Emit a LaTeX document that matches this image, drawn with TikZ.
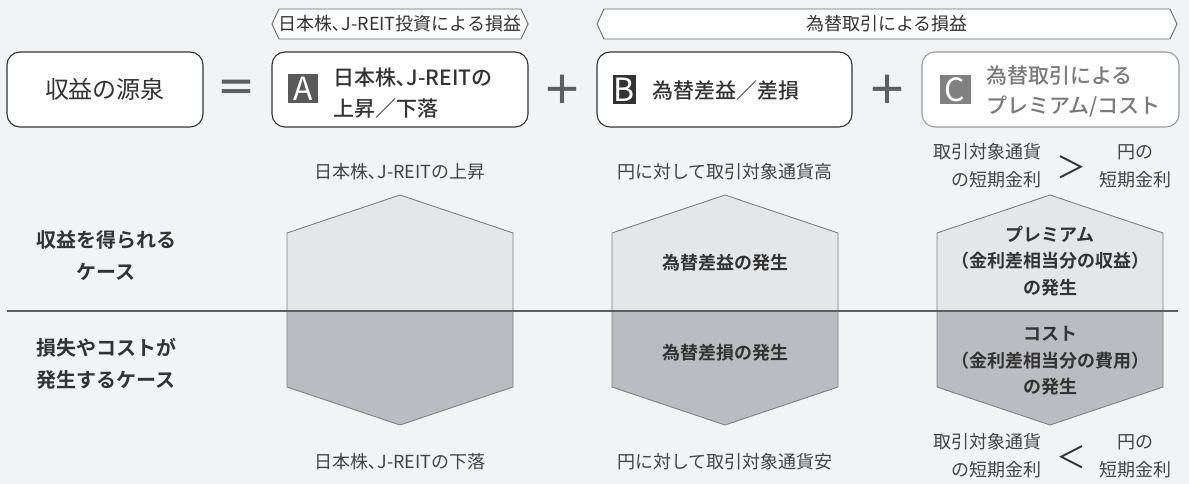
\documentclass[tikz,border=0pt]{standalone}
\usepackage{fontspec}
\setmainfont{Noto Sans CJK JP}[BoldFont={Noto Sans CJK JP Bold}]
\IfFontExistsTF{Noto Sans CJK JP Medium}
  {\newfontfamily\jpmid{Noto Sans CJK JP Medium}}
  {\newfontfamily\jpmid{Noto Sans CJK JP}[FakeBold=1.2]}
\usetikzlibrary{positioning}
\newcommand{\fsz}[2]{\fontsize{#1}{#2}\selectfont}

\definecolor{bgcol}{HTML}{F2F3F5}
\definecolor{inkdark}{HTML}{333333}
\definecolor{inkmid}{HTML}{444444}
\definecolor{inkgray}{HTML}{7A7A7A}
\definecolor{rimgray}{HTML}{9C9C9C}
\definecolor{hexhi}{HTML}{E5E6E8}
\definecolor{hexlo}{HTML}{BBBCBF}
\definecolor{hexrim}{HTML}{808080}
\definecolor{opgray}{HTML}{5E5E5E}

\tikzset{
  topbox/.style={draw=inkdark, line width=1.1pt, fill=white, rounded corners=13pt,
    minimum height=75pt, inner sep=0pt},
  badge/.style={fill=#1, text=white, minimum height=29pt, inner sep=0pt,
    font=\fsz{32}{32}},
  optext/.style={text=opgray, font=\bfseries\fsz{40}{40}, inner sep=0pt},
  brk/.style={draw=inkmid!80, line width=0.9pt, fill=white},
  brktext/.style={text=inkdark, font=\fsz{18}{18}, inner sep=0pt},
  note/.style={text=inkmid, font=\fsz{18}{28}, align=center, inner sep=0pt},
  hexlbl/.style={text=inkdark, font=\bfseries\fsz{18}{26.5}, align=center, inner sep=0pt},
  caselbl/.style={text=inkdark, font=\bfseries\fsz{20}{32}, align=center, inner sep=0pt},
  cmp/.style={text=inkdark, font=\fsz{30}{30}, inner sep=0pt}
}

\begin{document}
\begin{tikzpicture}[x=1pt,y=-1pt]
  \fill[bgcol] (0,0) rectangle (1189,484);
  \useasboundingbox (0,0) rectangle (1189,484);

  % brackets above the boxes
  \draw[brk] (272,24) -- (279,9) -- (521,9) -- (528,24) -- (521,39) -- (279,39) -- cycle;
  \node[brktext] (brkA) at (400,24) {日本株､J-REIT投資による損益};
  \draw[brk] (597,24) -- (604,9) -- (1170,9) -- (1177,24) -- (1170,39) -- (604,39) -- cycle;
  \node[brktext] (brkB) at (887,24) {為替取引による損益};

  % top row
  \node[topbox, minimum width=196pt, text=inkdark, font=\fsz{24}{24}] (src) at (105,89.5) {収益の源泉};
  \node[optext] (eq) at (236,91) {＝};
  \node[topbox, minimum width=256pt] (boxA) at (400,89.5) {};
  \node[badge=black!65, minimum width=30pt] (badgeA) at (303,88.5) {A};
  \node[text=inkdark, font=\jpmid\fsz{21}{31}, align=left, anchor=west, inner sep=0pt] (txtA)
    at (333,93) {日本株､J-REITの\\上昇／下落};
  \node[optext] (plusA) at (562,90) {＋};
  \node[topbox, minimum width=255pt] (boxB) at (724.5,89.5) {};
  \node[badge=inkdark, minimum width=23pt] (badgeB) at (624,90) {B};
  \node[text=inkdark, font=\jpmid\fsz{21}{21}, anchor=west, inner sep=0pt] (txtB)
    at (652,91) {為替差益／差損};
  \node[optext] (plusB) at (887,90) {＋};
  \node[topbox, draw=rimgray, minimum width=257pt] (boxC) at (1050.5,89.5) {};
  \node[badge=hexrim, minimum width=31pt] (badgeC) at (955,90) {C};
  \node[text=inkgray, font=\jpmid\fsz{21}{30}, align=left, anchor=west, inner sep=0pt] (txtC)
    at (986,92) {為替取引による\\プレミアム/コスト};

  % hexagons
  \foreach \cx in {400,725,1050}{
    \fill[hexhi] ({\cx-113},311) -- ({\cx-113},233) -- (\cx,195) -- ({\cx+113},233) -- ({\cx+113},311) -- cycle;
    \fill[hexlo] ({\cx-113},311) -- ({\cx-113},387) -- (\cx,425) -- ({\cx+113},387) -- ({\cx+113},311) -- cycle;
    \draw[hexrim, line width=0.9pt] ({\cx-113},233) -- (\cx,195) -- ({\cx+113},233) -- ({\cx+113},387)
      -- (\cx,425) -- ({\cx-113},387) -- cycle;
  }
  \draw[opgray, line width=1.1pt] (7,311) -- (1178,311);

  % case labels
  \node[caselbl] (lblGain) at (106,256) {収益を得られる\\ケース};
  \node[caselbl] (lblLoss) at (106,364) {損失やコストが\\発生するケース};

  % conditions
  \node[note] (upA) at (400,172) {日本株､J-REITの上昇};
  \node[note] (dnA) at (400,462) {日本株､J-REITの下落};
  \node[note] (upB) at (725,172) {円に対して取引対象通貨高};
  \node[note] (dnB) at (725,462) {円に対して取引対象通貨安};
  \node[note, align=right, anchor=east] (upC1) at (1042,166) {取引対象通貨\\の短期金利};
  \node[cmp] (gtC) at (1071,167) {＞};
  \node[note] (upC2) at (1135,166) {円の\\短期金利};
  \node[note, align=right, anchor=east] (dnC1) at (1042,456) {取引対象通貨\\の短期金利};
  \node[cmp] (ltC) at (1071,457) {＜};
  \node[note] (dnC2) at (1135,456) {円の\\短期金利};

  % texts in the hexagons
  \node[hexlbl] (hexBup) at (725,263) {為替差益の発生};
  \node[hexlbl] (hexBdn) at (725,353) {為替差損の発生};
  \node[hexlbl] (hexCup) at (1050,261) {プレミアム\\（金利差相当分の収益）\\の発生};
  \node[hexlbl] (hexCdn) at (1050,361) {コスト\\（金利差相当分の費用）\\の発生};
\end{tikzpicture}
\end{document}
